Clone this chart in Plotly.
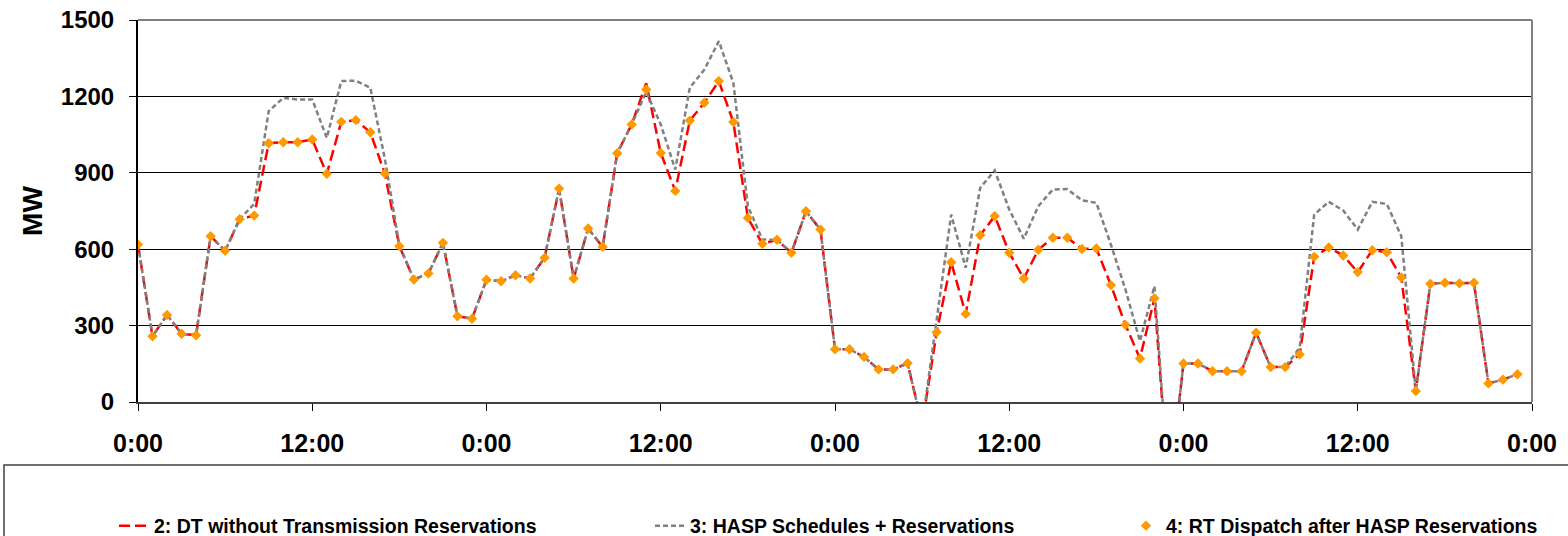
import plotly.graph_objects as go

hours = list(range(96))

dt_no_trans = [618, 258, 342, 268, 262, 651, 594, 718, 732, 1016, 1020, 1020, 1031, 896, 1100, 1107,
               1059, 897, 612, 481, 505, 625, 337, 327, 480, 474, 498, 485, 566, 838, 485, 681,
               609, 977, 1090, 1252, 978, 829, 1105, 1175, 1260, 1099, 723, 621, 637, 586, 749, 677,
               207, 207, 177, 128, 128, 152, -90, 274, 549, 346, 655, 730, 586, 485, 598, 645,
               645, 601, 603, 459, 303, 171, 407, -350, 151, 151, 121, 121, 121, 272, 137, 137,
               187, 570, 607, 575, 510, 596, 588, 489, 43, 464, 468, 466, 468, 73, 88, 109]

hasp_sched = [618, 258, 342, 268, 262, 651, 594, 718, 778, 1142, 1194, 1188, 1188, 1037, 1260, 1262,
              1234, 955, 615, 481, 505, 625, 337, 327, 480, 474, 498, 485, 566, 838, 485, 681,
              609, 977, 1090, 1218, 1090, 913, 1234, 1305, 1417, 1253, 769, 638, 637, 586, 749, 677,
              207, 207, 177, 128, 128, 152, -90, 330, 736, 527, 841, 909, 756, 641, 769, 834,
              836, 792, 782, 618, 442, 239, 455, -350, 151, 151, 121, 121, 121, 272, 137, 137,
              213, 736, 786, 752, 677, 786, 778, 651, 43, 464, 468, 466, 468, 73, 88, 109]

rt_dispatch = [618, 258, 342, 268, 262, 651, 594, 718, 732, 1016, 1020, 1020, 1031, 896, 1100, 1107,
               1059, 897, 612, 481, 505, 625, 337, 327, 480, 474, 498, 485, 566, 838, 485, 681,
               609, 977, 1090, 1227, 978, 829, 1105, 1175, 1260, 1099, 723, 621, 637, 586, 749, 677,
               207, 207, 177, 128, 128, 152, -90, 274, 549, 346, 655, 730, 586, 485, 598, 645,
               645, 601, 603, 459, 303, 171, 407, -350, 151, 151, 121, 121, 121, 272, 137, 137,
               187, 570, 607, 575, 510, 596, 588, 489, 43, 464, 468, 466, 468, 73, 88, 109]

tick_hours = [0, 12, 24, 36, 48, 60, 72, 84, 96]
tick_labels = ["0:00", "12:00", "0:00", "12:00", "0:00", "12:00", "0:00", "12:00", "0:00"]

names = ["2: DT without Transmission Reservations",
         "3: HASP Schedules + Reservations",
         "4: RT Dispatch after HASP Reservations"]

FONT = "Arial, 'Liberation Sans', sans-serif"
W, H = 1568, 536
L, R, T, B = 138, 36, 20, 134

fig = go.Figure()
fig.add_trace(go.Scatter(x=hours, y=dt_no_trans, mode="lines", name=names[0],
                         line=dict(color="#FF0000", width=2.5, dash="11px,5px"),
                         legend="legend"))
fig.add_trace(go.Scatter(x=hours, y=hasp_sched, mode="lines", name=names[1],
                         line=dict(color="#808080", width=2.5, dash="5px,3px"),
                         legend="legend2"))
fig.add_trace(go.Scatter(x=hours, y=rt_dispatch, mode="markers", name=names[2],
                         marker=dict(symbol="diamond", size=8, color="#FF9900"),
                         legend="legend3"))

leg_common = dict(orientation="h", xref="container", yref="container",
                  yanchor="middle", xanchor="left", bgcolor="rgba(0,0,0,0)",
                  font=dict(family=FONT, size=19.5, color="black", weight="bold"))

LEG_Y = 1 - 526 / H

fig.update_layout(
    width=W, height=H,
    margin=dict(l=L, r=R, t=T, b=B, autoexpand=False),
    paper_bgcolor="white", plot_bgcolor="white",
    showlegend=True,
    legend=dict(x=114 / W, y=LEG_Y, **leg_common),
    legend2=dict(x=650 / W, y=LEG_Y, **leg_common),
    legend3=dict(x=1126 / W, y=LEG_Y, **leg_common),
    xaxis=dict(range=[0, 96], tickvals=tick_hours, ticktext=tick_labels, automargin=False,
               showgrid=False, zeroline=False, showline=True, linecolor="#404040",
               linewidth=2, ticks="outside", ticklen=7, tickcolor="black", tickwidth=1,
               ticklabelstandoff=11,
               tickfont=dict(family=FONT, size=25, color="black", weight="bold")),
    yaxis=dict(range=[0, 1500], dtick=300, tick0=0, automargin=False,
               showgrid=True, gridcolor="black", gridwidth=1, zeroline=False,
               showline=True, linecolor="black", linewidth=2,
               ticks="outside", ticklen=7, tickcolor="black", tickwidth=1,
               ticklabelstandoff=10,
               tickfont=dict(family=FONT, size=24, color="black", weight="bold"),
               title=dict(text="MW", standoff=10,
                          font=dict(family=FONT, size=28, color="black", weight="bold"))),
    shapes=[
        dict(type="line", xref="paper", yref="paper", x0=0, x1=1, y0=1, y1=1,
             line=dict(color="#808080", width=2)),
        dict(type="line", xref="paper", yref="paper", x0=1, x1=1, y0=0, y1=1,
             line=dict(color="#808080", width=2)),
        dict(type="rect", xref="paper", yref="paper",
             x0=(4 - L) / (W - L - R), x1=(1600 - L) / (W - L - R),
             y0=-(600 - (H - B)) / (H - T - B), y1=-(465 - (H - B)) / (H - T - B),
             line=dict(color="#404040", width=1.5), fillcolor="rgba(0,0,0,0)"),
    ],
)

fig.write_html("out.html", config={"displayModeBar": False},
               post_script="document.body.style.margin='0';")
